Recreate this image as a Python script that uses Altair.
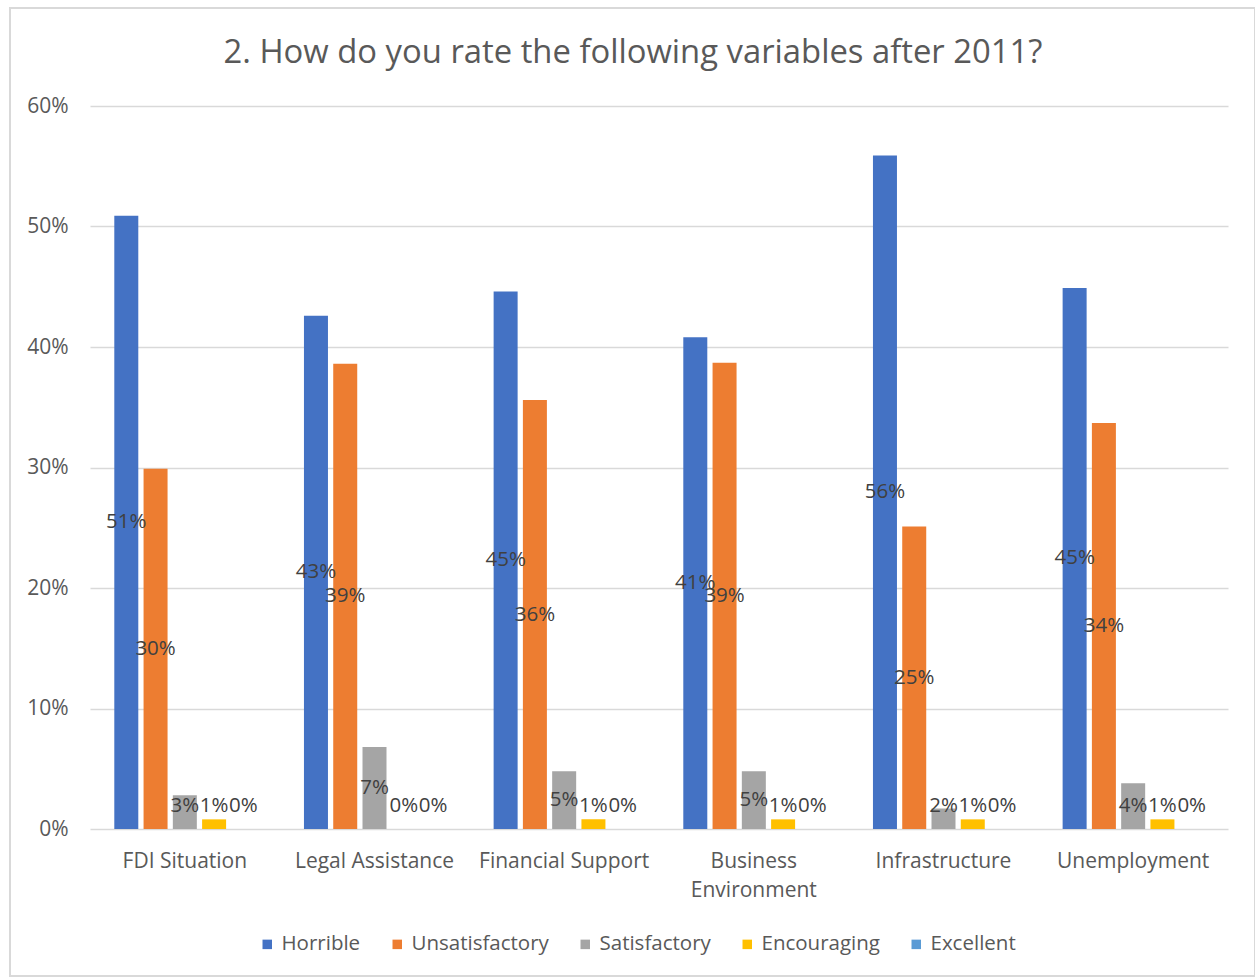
import altair as alt
import pandas as pd

categories = ["FDI Situation", "Legal Assistance", "Financial Support",
              "Business Environment", "Infrastructure", "Unemployment"]
series = ["Horrible", "Unsatisfactory", "Satisfactory", "Encouraging", "Excellent"]
colors = ["#4472C4", "#ED7D31", "#A5A5A5", "#FFC000", "#5B9BD5"]

horrible = [0.509, 0.426, 0.446, 0.408, 0.559, 0.449]
unsatisfactory = [0.299, 0.386, 0.356, 0.387, 0.251, 0.337]
satisfactory = [0.028, 0.068, 0.048, 0.048, 0.017, 0.038]
encouraging = [0.008, 0.0, 0.008, 0.008, 0.008, 0.008]
excellent = [0.0, 0.0, 0.0, 0.0, 0.0, 0.0]

title_text = "2. How do you rate the following variables after 2011?"

values = [horrible, unsatisfactory, satisfactory, encouraging, excellent]
rows = []
for s, vals in zip(series, values):
    for c, v in zip(categories, vals):
        rows.append({"category": c, "series": s, "value": v})
df = pd.DataFrame(rows)

FONT = "Open Sans"
TXT = "#595959"

x = alt.X("category:N", sort=categories, title=None,
          scale=alt.Scale(paddingInner=0, paddingOuter=0),
          axis=alt.Axis(labelAngle=0, labelFontSize=21, labelColor=TXT, labelFont=FONT,
                        labelPadding=21, ticks=False, domain=False, labelLimit=300,
                        labelExpr="length(datum.label) > 18 ? split(datum.label, ' ') : datum.label",
                        labelLineHeight=29))
xo = alt.XOffset("series:N", sort=series,
                 scale=alt.Scale(paddingInner=0.18, paddingOuter=0.83))

bars = alt.Chart(df).mark_bar().encode(
    x=x,
    xOffset=xo,
    y=alt.Y("value:Q", title=None,
            scale=alt.Scale(domain=[0, 0.6], nice=False),
            axis=alt.Axis(format=".0%", values=[0, 0.1, 0.2, 0.3, 0.4, 0.5, 0.6],
                          labelFontSize=21, labelColor=TXT, labelFont=FONT, labelPadding=22,
                          ticks=False, domain=False, gridColor="#D9D9D9", gridWidth=1.3)),
    color=alt.Color("series:N", sort=series,
                    scale=alt.Scale(domain=series, range=colors),
                    legend=alt.Legend(title=None, orient="none", direction="horizontal",
                                      legendX=167, legendY=828,
                                      symbolType="square", symbolSize=90,
                                      labelFontSize=20.5, labelColor=TXT, labelFont=FONT,
                                      columnPadding=26, symbolStrokeWidth=0)),
)

labels = alt.Chart(df).transform_calculate(
    ypos="max(datum.value / 2, 0.0192)"
).mark_text(fontSize=20.5, font=FONT, color="#404040", baseline="middle", align="center").encode(
    x=x,
    xOffset=xo,
    y=alt.Y("ypos:Q"),
    text=alt.Text("value:Q", format=".0%"),
)

border = alt.Chart(df).mark_rect(fill=None, stroke="#D9D9D9", strokeWidth=1.3).encode(
    x=alt.value(-80), x2=alt.value(1165), y=alt.value(-98), y2=alt.value(870)
)

title = alt.Chart(pd.DataFrame({"t": [title_text]})).mark_text(
    fontSize=32.8, font=FONT, color=TXT, align="center", baseline="middle"
).encode(x=alt.value(543), y=alt.value(-53), text="t:N")

chart = alt.layer(border, bars, labels, title).properties(
    width=1138, height=723,
    padding={"left": 90, "top": 106, "right": 27, "bottom": 148},
    autosize=alt.AutoSizeParams(type="none"),
).configure(background="white", view=alt.ViewConfig(stroke=None))

chart.save("out.html", embed_options={"renderer": "svg", "actions": False})
